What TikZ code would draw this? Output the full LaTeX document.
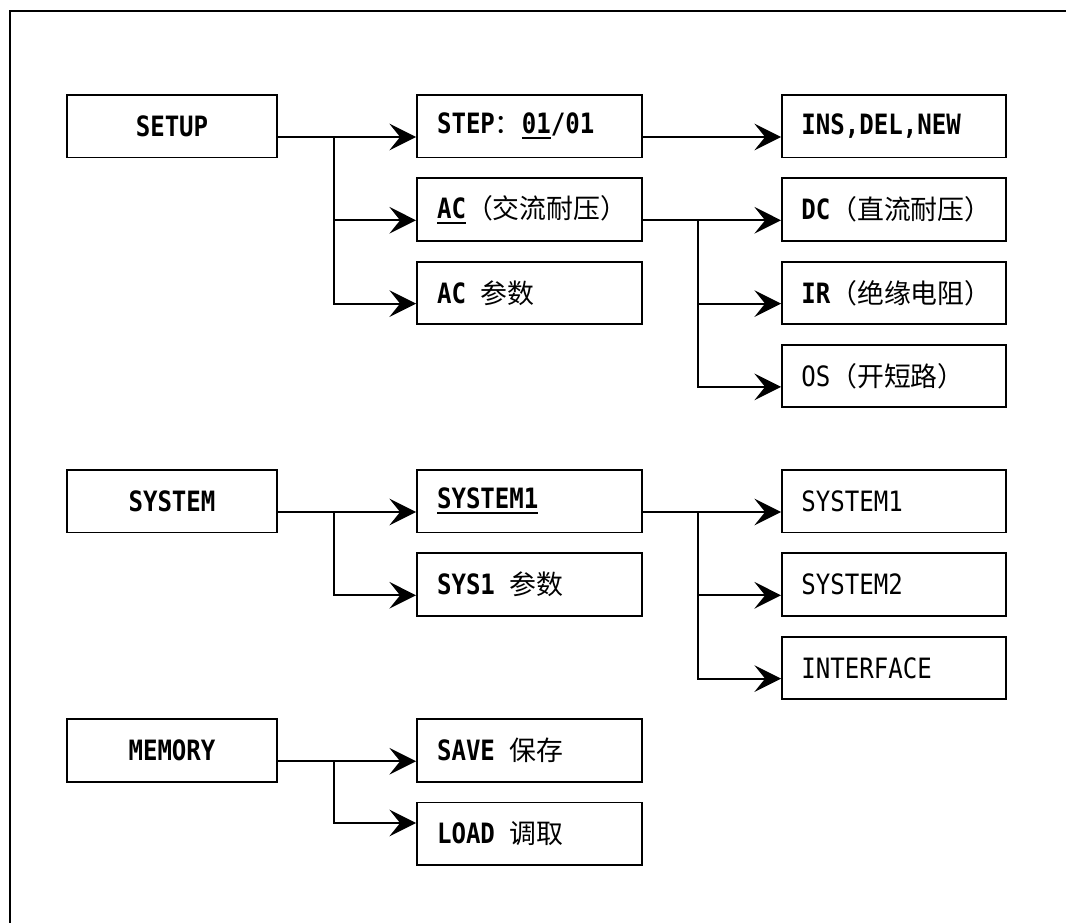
\documentclass[tikz,border=0pt]{standalone}
\usepackage{fontspec}
\setmainfont{DejaVu Sans Mono}[FakeStretch=0.86]
\newfontfamily\cjk{Noto Sans CJK SC}[Scale=0.96]
\usetikzlibrary{arrows.meta,calc}
\newcommand\myul[1]{\setbox0\hbox{#1}\rlap{\rule[-4pt]{\wd0}{1.5pt}}\box0}
\newcommand\zh[1]{{\mdseries\cjk #1}}
\newcommand\midtext[1]{\hbox to 138.75pt{#1\hss}}
\newcommand\righttext[1]{\hbox to 139pt{#1\hss}}
\begin{document}
\begin{tikzpicture}[x=0.75pt,y=-0.75pt,
  every node/.style={font=\fontsize{21pt}{25pt}\selectfont},
  cbox/.style={draw, line width=1.4pt, minimum height=46.9pt, inner sep=0pt},
  leftbox/.style={cbox, minimum width=157.5pt, font=\fontsize{21pt}{25pt}\selectfont\bfseries},
  midbox/.style={cbox, minimum width=168.75pt, inner xsep=15pt},
  rightbox/.style={cbox, minimum width=168pt, inner xsep=14.5pt},
  conn/.style={line width=1.6pt, -{Stealth[length=20pt,width=20pt,inset=8pt]}},
  frame/.style={line width=1.5pt}
]
\useasboundingbox (0,0) rectangle (1066,923);
\draw[frame] (1075,11) -- (10,11) -- (10,935);

% ---- SETUP section
\node[leftbox] (setup) at (172,126.25) {SETUP};
\node[midbox] (step) at (529.5,126.25) {\midtext{\bfseries STEP\zh{：}\myul{01}/01}};
\node[midbox] (ac) at (529.5,209.55) {\midtext{\bfseries \myul{AC}\zh{（交流耐压）}}};
\node[midbox] (acp) at (529.5,292.85) {\midtext{\bfseries AC \zh{参数}}};
\node[rightbox] (ins) at (894,126.25) {\righttext{\bfseries INS,DEL,NEW}};
\node[rightbox] (dc) at (894,209.55) {\righttext{\bfseries DC\zh{（直流耐压）}}};
\node[rightbox] (ir) at (894,292.85) {\righttext{\bfseries IR\zh{（绝缘电阻）}}};
\node[rightbox] (os) at (894,376.15) {\righttext{OS\zh{（开短路）}}};

% ---- SYSTEM section
\node[leftbox] (system) at (172,501.25) {SYSTEM};
\node[midbox] (sysone) at (529.5,501.25) {\midtext{\bfseries \myul{SYSTEM1}}};
\node[midbox] (sysp) at (529.5,584.55) {\midtext{\bfseries SYS1 \zh{参数}}};
\node[rightbox] (sa) at (894,501.25) {\righttext{SYSTEM1}};
\node[rightbox] (sb) at (894,584.55) {\righttext{SYSTEM2}};
\node[rightbox] (intf) at (894,667.85) {\righttext{INTERFACE}};

% ---- MEMORY section
\node[leftbox] (memory) at (172,750.5) {MEMORY};
\node[midbox] (save) at (529.5,750.5) {\midtext{\bfseries SAVE \zh{保存}}};
\node[midbox] (load) at (529.5,833.8) {\midtext{\bfseries LOAD \zh{调取}}};

% branch columns
\coordinate (xa) at (334,0);
\coordinate (xb) at (698,0);

% SETUP connectors
\coordinate (p1) at ($(setup.east)+(0,10.75)$);
\coordinate (b1) at (p1 -| xa);
\draw[conn] (p1) -- ($(step.west)+(0,10.75)$);
\draw[conn] (b1) |- ($(ac.west)+(0,10.75)$);
\draw[conn] (b1) |- ($(acp.west)+(0,10.75)$);
\draw[conn] ($(step.east)+(0,10.75)$) -- ($(ins.west)+(0,10.75)$);
\coordinate (p2) at ($(ac.east)+(0,10.75)$);
\coordinate (b2) at (p2 -| xb);
\draw[conn] (p2) -- ($(dc.west)+(0,10.75)$);
\draw[conn] (b2) |- ($(ir.west)+(0,10.75)$);
\draw[conn] (b2) |- ($(os.west)+(0,10.75)$);

% SYSTEM connectors
\coordinate (p3) at ($(system.east)+(0,10.75)$);
\coordinate (b3) at (p3 -| xa);
\draw[conn] (p3) -- ($(sysone.west)+(0,10.75)$);
\draw[conn] (b3) |- ($(sysp.west)+(0,10.75)$);
\coordinate (p4) at ($(sysone.east)+(0,10.75)$);
\coordinate (b4) at (p4 -| xb);
\draw[conn] (p4) -- ($(sa.west)+(0,10.75)$);
\draw[conn] (b4) |- ($(sb.west)+(0,10.75)$);
\draw[conn] (b4) |- ($(intf.west)+(0,10.75)$);

% MEMORY connectors
\coordinate (p5) at ($(memory.east)+(0,10.75)$);
\coordinate (b5) at (p5 -| xa);
\draw[conn] (p5) -- ($(save.west)+(0,10.75)$);
\draw[conn] (b5) |- ($(load.west)+(0,-10.8)$);
\end{tikzpicture}
\end{document}
